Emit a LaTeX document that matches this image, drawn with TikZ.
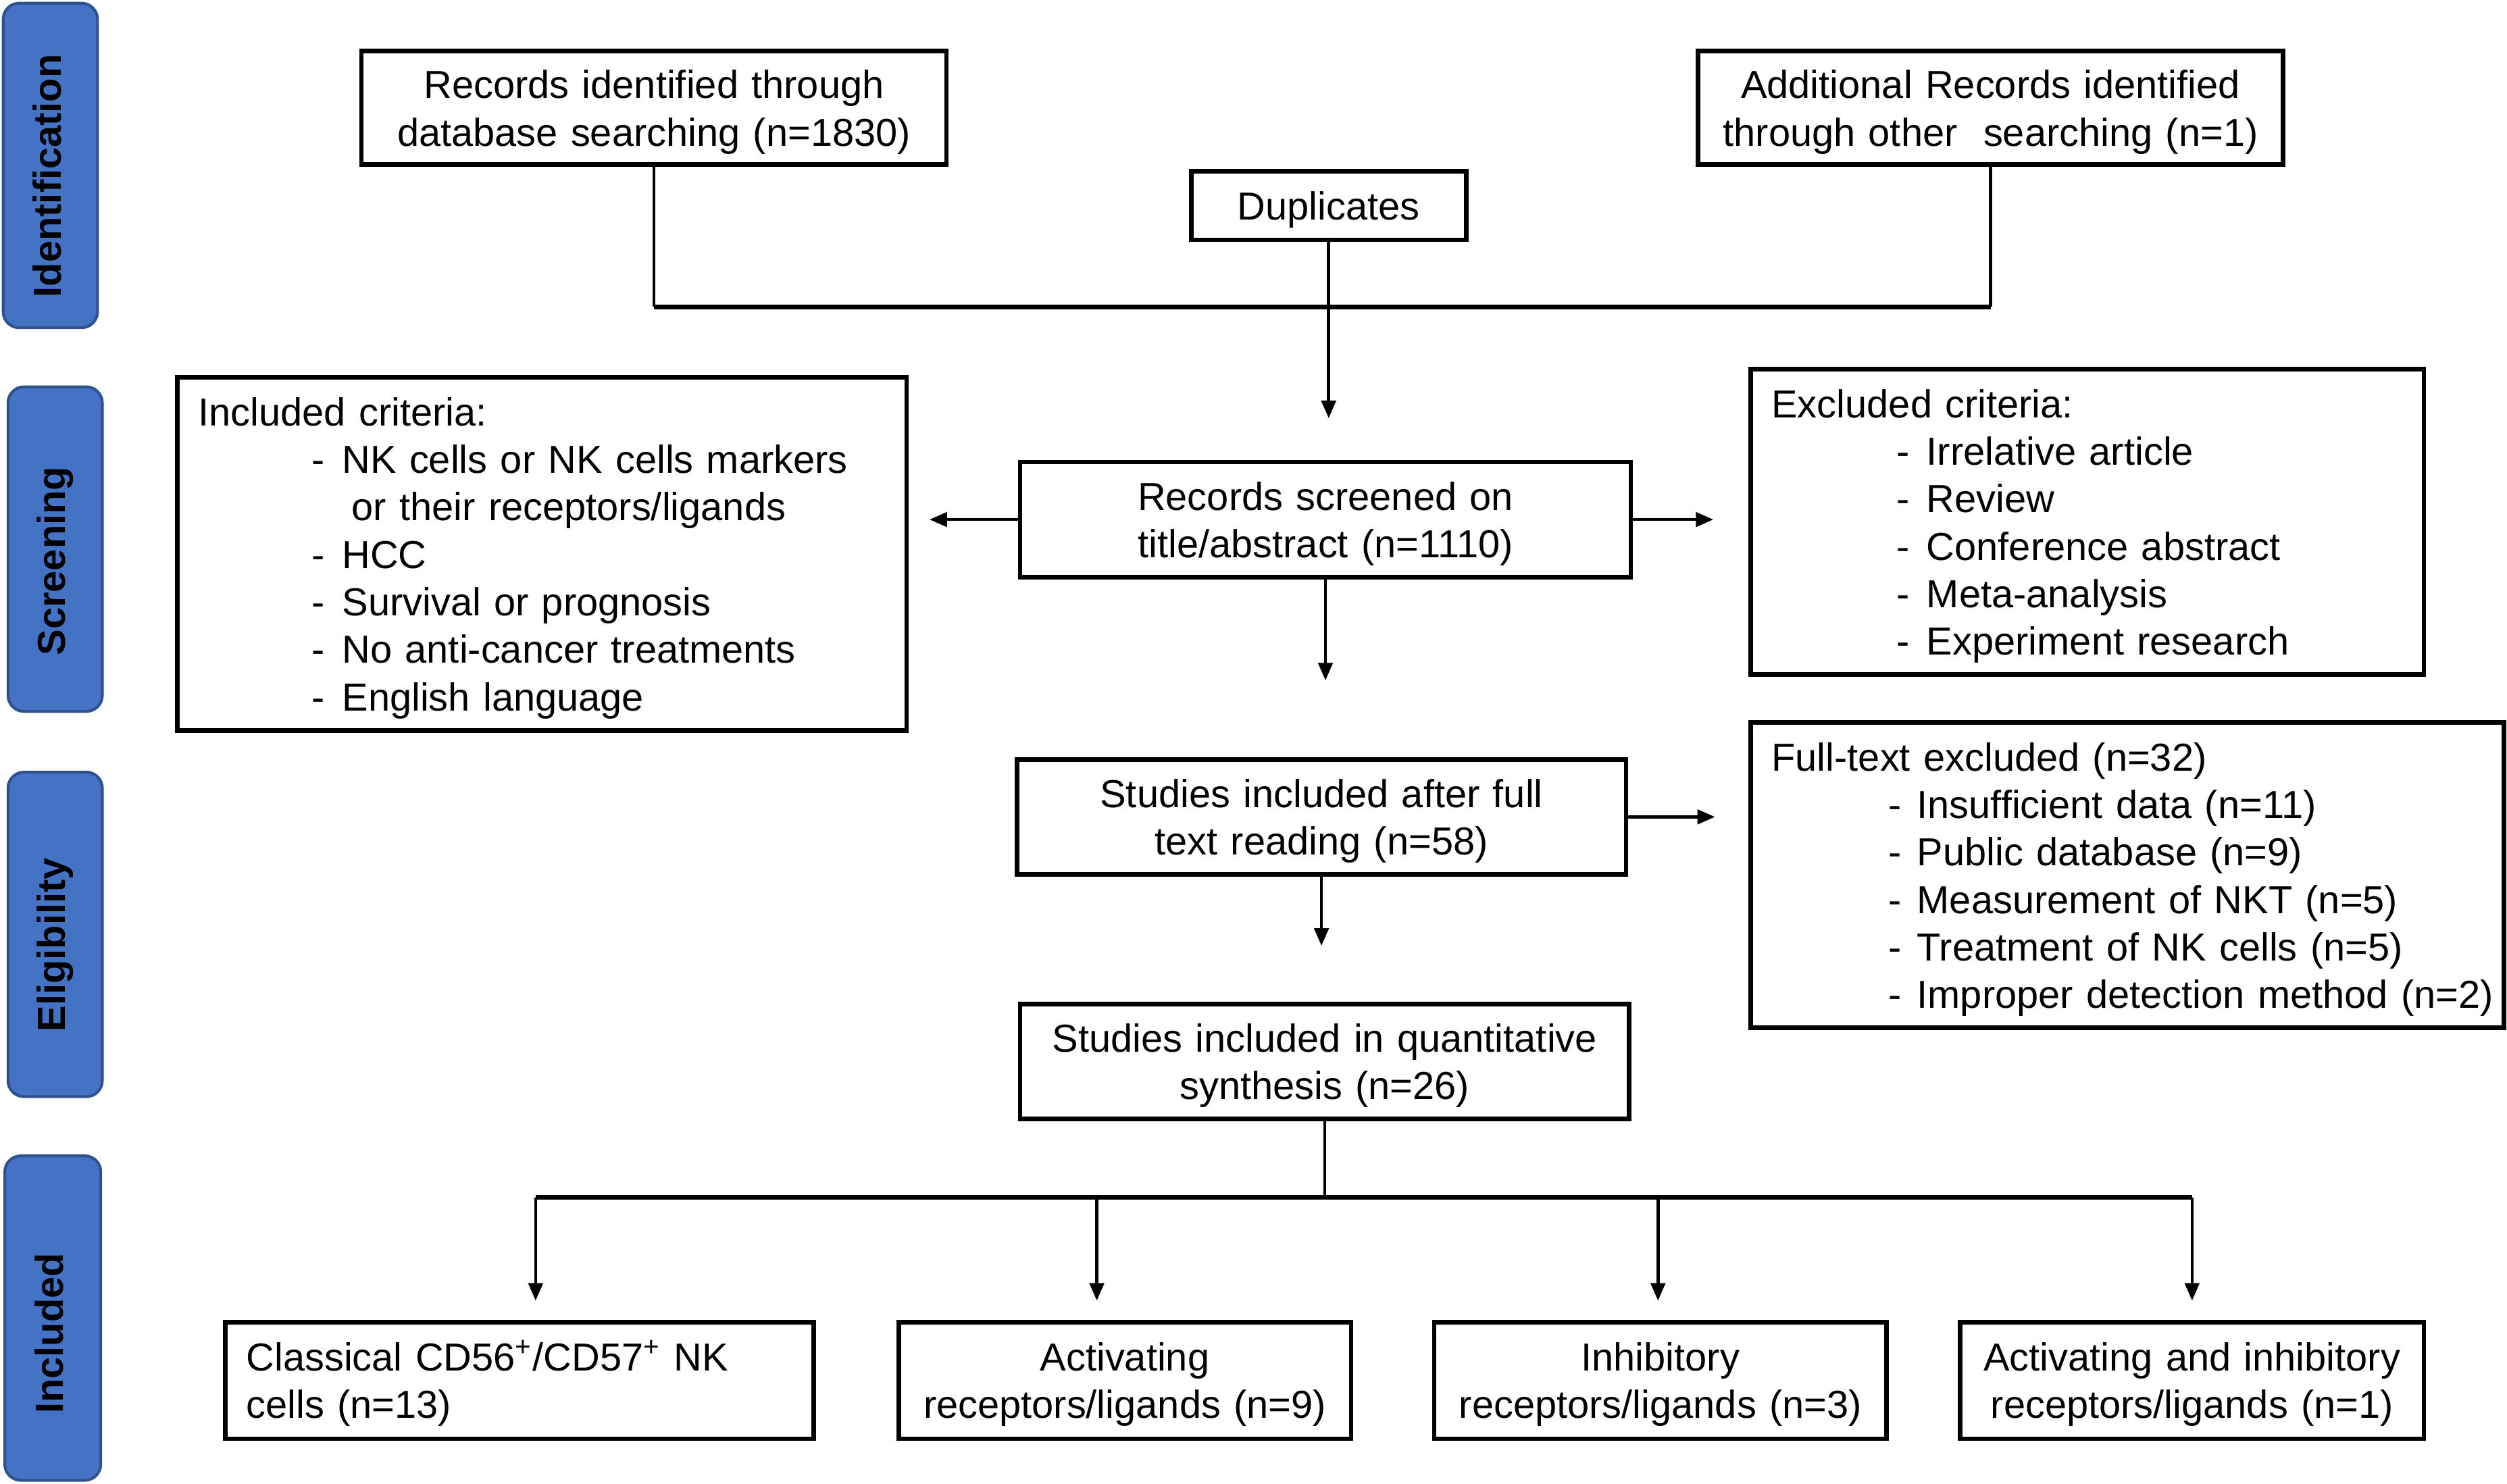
\documentclass[tikz,border=0pt]{standalone}
\usepackage{fontspec}
\setmainfont{Liberation Sans}
\usetikzlibrary{arrows.meta,calc}
\definecolor{barblue}{HTML}{4472C4}
\definecolor{baredge}{HTML}{2F528F}
\newcommand{\critem}[3]{\hspace*{#1}\makebox[#2][l]{-}\mbox{#3}}
\begin{document}
\begin{tikzpicture}[x=0.02cm,y=-0.02cm,
  txt/.style={font=\fontsize{13.9pt}{16.9pt}\selectfont, execute at begin node={\rule{0pt}{0.94em}}},
  box/.style={txt, draw, line width=1.6pt, inner sep=0pt, align=center},
  lbox/.style={txt, draw, line width=1.6pt, inner xsep=0.26cm, inner ysep=0pt, align=left},
  bar/.style={draw=baredge, line width=1pt, fill=barblue, rounded corners=0.2cm},
  barlabel/.style={font=\fontsize{13.9pt}{16.9pt}\selectfont\bfseries, rotate=90, text height=0.72em, text depth=0pt, inner sep=0pt},
  conn/.style={line width=1.1pt},
  hconn/.style={line width=1.6pt},
  arr/.style={line width=1.1pt, -{Triangle[length=0.22cm,width=0.18cm]}},
]
\useasboundingbox (0,0) rectangle (1568,928.3);
\fill[white] (0,0) rectangle (1568,928.3);

% stage bars
\draw[bar] (2,2) rectangle (61,205);
\draw[bar] (5,242) rectangle (64,445);
\draw[bar] (5,483) rectangle (64,686);
\draw[bar] (3,723) rectangle (63,926);
\node[barlabel] (lid) at (32,110) {Identification};
\node[barlabel] (lsc) at (34.5,351) {Screening};
\node[barlabel] (lel) at (34.5,591) {Eligibility};
\node[barlabel] (lin) at (33,834) {Included};

% boxes
\node[box, text width=7.32cm, minimum height=1.42cm] (rec1) at (409,67.5) {Records identified through\\database searching (n=1830)};
\node[box, text width=7.32cm, minimum height=1.42cm] (rec2) at (1245,67.5) {Additional Records identified\\through other\ \ searching (n=1)};
\node[box, text width=3.44cm, minimum height=0.86cm] (dup) at (831,128.5) {Duplicates};
\node[box, text width=7.64cm, minimum height=1.44cm] (screen) at (829,325) {Records screened on\\title/abstract (n=1110)};
\node[lbox, text width=8.6cm, minimum height=4.42cm] (incl) at (339,346.5) {Included criteria:\\
  \critem{1.42cm}{0.38cm}{NK cells or NK cells markers}\\
  \hspace*{1.92cm}\mbox{or their receptors/ligands}\\
  \critem{1.42cm}{0.38cm}{HCC}\\
  \critem{1.42cm}{0.38cm}{Survival or prognosis}\\
  \critem{1.42cm}{0.38cm}{No anti-cancer treatments}\\
  \critem{1.42cm}{0.38cm}{English language}};
\node[lbox, text width=7.9cm, minimum height=3.82cm] (excl) at (1305.5,326.5) {Excluded criteria:\\
  \critem{1.56cm}{0.38cm}{Irrelative article}\\
  \critem{1.56cm}{0.38cm}{Review}\\
  \critem{1.56cm}{0.38cm}{Conference abstract}\\
  \critem{1.56cm}{0.38cm}{Meta-analysis}\\
  \critem{1.56cm}{0.38cm}{Experiment research}};
\node[box, text width=7.62cm, minimum height=1.44cm] (full) at (826.5,511) {Studies included after full\\text reading (n=58)};
\node[lbox, text width=8.9cm, minimum height=3.82cm] (ftex) at (1330.5,547.5) {Full-text excluded (n=32)\\
  \critem{1.46cm}{0.36cm}{Insufficient data (n=11)}\\
  \critem{1.46cm}{0.36cm}{Public database (n=9)}\\
  \critem{1.46cm}{0.36cm}{Measurement of NKT (n=5)}\\
  \critem{1.46cm}{0.36cm}{Treatment of NK cells (n=5)}\\
  \critem{1.46cm}{0.36cm}{Improper detection method (n=2)}};
\node[box, text width=7.62cm, minimum height=1.44cm] (quant) at (828.5,664) {Studies included in quantitative\\synthesis (n=26)};
\node[lbox, text width=6.84cm, minimum height=1.46cm] (b1) at (325,863.5) {Classical CD56\textsuperscript{+}/CD57\textsuperscript{+} NK\\cells (n=13)};
\node[box, text width=5.66cm, minimum height=1.46cm] (b2) at (703.5,863.5) {Activating\\receptors/ligands (n=9)};
\node[box, text width=5.66cm, minimum height=1.46cm] (b3) at (1038.5,863.5) {Inhibitory\\receptors/ligands (n=3)};
\node[box, text width=5.80cm, minimum height=1.46cm] (b4) at (1371,863.5) {Activating and inhibitory\\receptors/ligands (n=1)};

% connectors
\coordinate (yb) at (0,192);
\draw[conn] (rec1.south) -- (rec1.south |- yb);
\draw[conn] (rec2.south) -- (rec2.south |- yb);
\draw[hconn] (rec1.south |- yb) -- (rec2.south |- yb);
\draw[arr, shorten >=0.52cm] (dup.south) -- (dup.south |- screen.north);
\draw[arr, shorten >=0.26cm] (screen.west) -- (screen.west -| incl.east);
\draw[arr, shorten >=0.44cm] (screen.east) -- (screen.east -| excl.west);
\draw[arr, shorten >=0.96cm] (screen.south) -- (screen.south |- full.north);
\draw[arr, shorten >=0.42cm] (full.east) -- (full.east -| ftex.west);
\draw[arr, shorten >=0.7cm] (full.south) -- (full.south |- quant.north);
\coordinate (yc) at (0,749);
\draw[conn] (quant.south) -- (quant.south |- yc);
\coordinate (br1) at (335,749);
\coordinate (br2) at (686,749);
\coordinate (br3) at (1037,749);
\coordinate (br4) at (1371,749);
\draw[hconn] (br1) -- (br4);
\draw[arr, shorten >=0.24cm] (br1) -- (br1 |- b1.north);
\draw[arr, shorten >=0.24cm] (br2) -- (br2 |- b2.north);
\draw[arr, shorten >=0.24cm] (br3) -- (br3 |- b3.north);
\draw[arr, shorten >=0.24cm] (br4) -- (br4 |- b4.north);
\end{tikzpicture}
\end{document}
